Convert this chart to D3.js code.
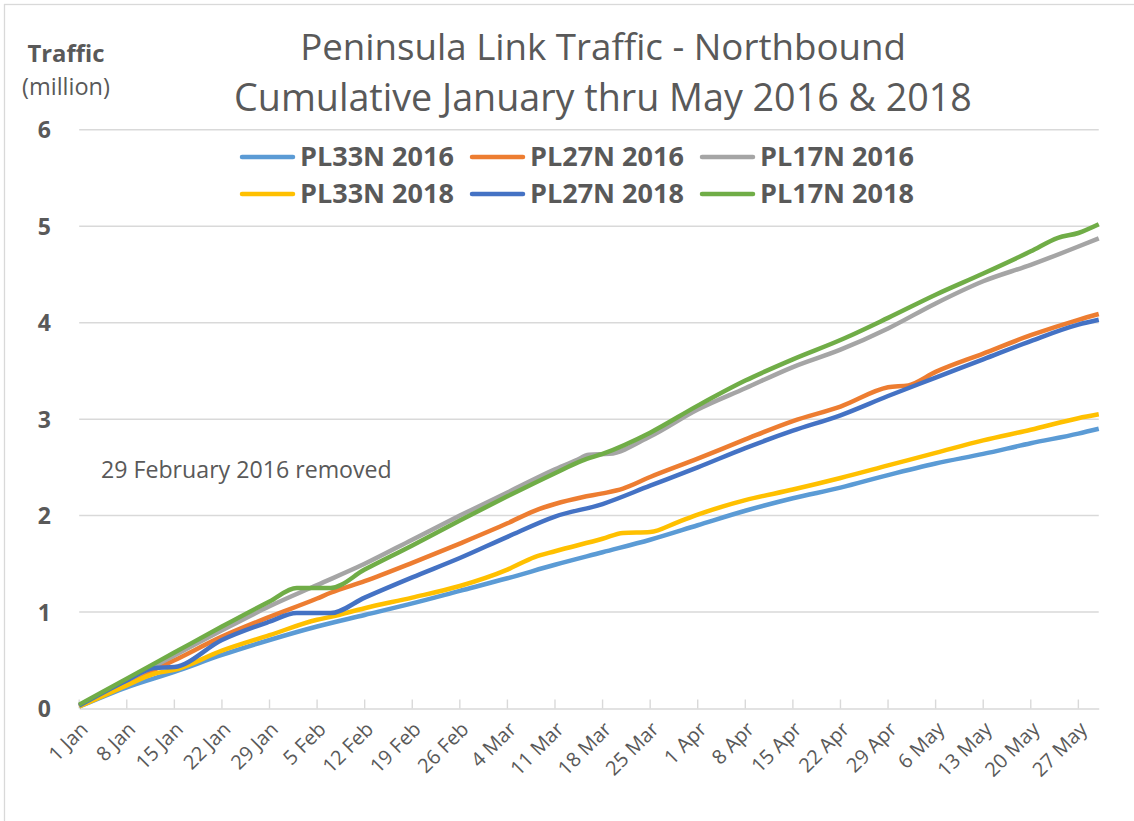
<!DOCTYPE html>
<html><head><meta charset="utf-8">
<script src="https://cdn.jsdelivr.net/npm/d3@7"></script>
<style>
body{margin:0;background:#fff}
svg{display:block}
text{font-family:"Open Sans","Noto Sans",sans-serif;fill:#595959}
</style>
</head><body>
<svg id="chart" width="1134" height="821"></svg>
<script>
// ---- data (day index from 1 Jan, cumulative traffic in millions) ----
const tickLabels = ["1 Jan","8 Jan","15 Jan","22 Jan","29 Jan","5 Feb","12 Feb","19 Feb","26 Feb",
  "4 Mar","11 Mar","18 Mar","25 Mar","1 Apr","8 Apr","15 Apr","22 Apr","29 Apr","6 May","13 May","20 May","27 May"];
const yTicks = [0,1,2,3,4,5,6];
const seriesNames = ["PL33N 2016","PL27N 2016","PL17N 2016","PL33N 2018","PL27N 2018","PL17N 2018"];

const pl33n2016 = [[0,0.02],[7,0.22],[14,0.38],[21,0.555],[28,0.71],[35,0.85],[42,0.97],[49,1.09],[56,1.22],
  [63,1.35],[70,1.49],[77,1.62],[84,1.75],[91,1.90],[98,2.05],[105,2.18],[112,2.29],[119,2.42],[126,2.54],
  [133,2.64],[140,2.75],[147,2.85],[150,2.90]];
const pl27n2016 = [[0,0.03],[7,0.27],[14,0.50],[21,0.745],[28,0.95],[35,1.14],[37,1.20],[42,1.32],[49,1.51],
  [56,1.71],[63,1.92],[67,2.05],[70,2.12],[74,2.19],[77,2.23],[80,2.28],[84,2.40],[91,2.59],[98,2.79],
  [105,2.98],[112,3.13],[119,3.33],[122,3.35],[126,3.49],[133,3.68],[140,3.87],[147,4.03],[150,4.09]];
const pl17n2016 = [[0,0.03],[7,0.29],[14,0.55],[21,0.81],[28,1.06],[35,1.28],[42,1.50],[49,1.75],[56,2.00],
  [63,2.24],[70,2.48],[73,2.57],[75,2.63],[78,2.64],[84,2.82],[91,3.10],[98,3.32],[105,3.54],[112,3.72],
  [119,3.94],[126,4.20],[133,4.43],[140,4.60],[147,4.79],[150,4.875]];
const pl33n2018 = [[0,0.02],[7,0.24],[11,0.36],[14,0.40],[21,0.60],[28,0.76],[35,0.92],[37,0.95],[42,1.04],
  [49,1.15],[56,1.27],[63,1.44],[67,1.57],[70,1.63],[77,1.76],[80,1.82],[84,1.83],[88,1.93],[91,2.01],
  [98,2.16],[105,2.27],[112,2.39],[119,2.52],[126,2.65],[133,2.78],[140,2.89],[147,3.01],[150,3.05]];
const pl27n2018 = [[0,0.03],[7,0.29],[11,0.42],[14,0.43],[21,0.71],[28,0.90],[32,0.99],[37,0.99],[42,1.15],
  [49,1.36],[56,1.56],[63,1.78],[70,1.99],[77,2.12],[84,2.31],[91,2.50],[98,2.70],[105,2.88],[112,3.04],
  [119,3.24],[126,3.43],[133,3.62],[140,3.81],[147,3.98],[150,4.03]];
const pl17n2018 = [[0,0.04],[7,0.31],[14,0.58],[21,0.85],[28,1.11],[32,1.25],[37,1.25],[42,1.44],[49,1.69],
  [56,1.95],[63,2.20],[70,2.44],[74,2.57],[77,2.64],[84,2.86],[91,3.14],[98,3.40],[105,3.62],[112,3.82],
  [119,4.05],[126,4.29],[133,4.51],[140,4.74],[144,4.88],[147,4.93],[150,5.02]];

const seriesData = [pl33n2016, pl27n2016, pl17n2016, pl33n2018, pl27n2018, pl17n2018];
const seriesColors = ["#5B9BD5","#ED7D31","#A5A5A5","#FFC000","#4472C4","#70AD47"];

// ---- layout ----
const svg = d3.select("#chart");
const x = d3.scaleLinear().domain([0,150]).range([79.2, 79.2 + 150*6.797]);
const y = d3.scaleLinear().domain([0,6]).range([708.5, 129.8]);
const grid = "#d9d9d9";

function fit(sel, w){
  const n = sel.node();
  const cur = parseFloat(sel.attr("font-size"));
  const len = n.getComputedTextLength();
  sel.attr("font-size", (cur*w/len).toFixed(2));
  return sel;
}

// chart border
svg.append("rect").attr("x",4.5).attr("y",4.5).attr("width",1140).attr("height",830)
  .attr("fill","none").attr("stroke",grid).attr("stroke-width",1.3);

// gridlines
svg.append("g").selectAll("line").data(yTicks.filter(d=>d>0)).join("line")
  .attr("x1", x(0)).attr("x2", x(150)).attr("y1", d=>y(d)).attr("y2", d=>y(d))
  .attr("stroke", grid).attr("stroke-width",1.5);

// y labels
svg.append("g").selectAll("text").data(yTicks).join("text")
  .attr("x", 51).attr("y", d=>y(d)+8.5).attr("text-anchor","end")
  .attr("font-size",23).attr("font-weight","bold").text(d=>d);

// x axis
const tickDays = tickLabels.map((_,i)=>i*7);
const xAxis = d3.axisBottom(x).tickValues(tickDays).tickSize(0).tickFormat("");
const gx = svg.append("g").attr("transform",`translate(0,${y(0)})`).call(xAxis);
gx.select(".domain").attr("stroke",grid).attr("stroke-width",1.6);
svg.append("g").selectAll("line").data(tickDays).join("line")
  .attr("x1",d=>x(d)).attr("x2",d=>x(d)).attr("y1",y(0)).attr("y2",y(0)-9)
  .attr("stroke",grid).attr("stroke-width",1.4);
svg.append("g").selectAll("text").data(tickLabels).join("text")
  .attr("transform",(d,i)=>`translate(${x(i*7)+10},${y(0)+22}) rotate(-45)`)
  .attr("text-anchor","end").attr("font-size",20).text(d=>d);

// lines
const line = d3.line().x(d=>x(d[0])).y(d=>y(d[1])).curve(d3.curveMonotoneX);
svg.append("g").selectAll("path").data(seriesData).join("path")
  .attr("d", line).attr("fill","none")
  .attr("stroke",(d,i)=>seriesColors[i]).attr("stroke-width",4.5)
  .attr("stroke-linejoin","round").attr("stroke-linecap","butt");

// titles
fit(svg.append("text").attr("x",603).attr("y",60).attr("text-anchor","middle")
  .attr("font-size",32).text("Peninsula Link Traffic - Northbound"), 606);
fit(svg.append("text").attr("x",603).attr("y",111).attr("text-anchor","middle")
  .attr("font-size",32).text("Cumulative January thru May 2016 & 2018"), 738);
fit(svg.append("text").attr("x",66).attr("y",62).attr("text-anchor","middle")
  .attr("font-size",20).attr("font-weight","bold").text("Traffic"), 77);
fit(svg.append("text").attr("x",66).attr("y",95).attr("text-anchor","middle")
  .attr("font-size",18).text("(million)"), 88);

// annotation
fit(svg.append("text").attr("x",101).attr("y",478).attr("font-size",19)
  .text("29 February 2016 removed"), 291);

// legend
const legX = [240, 470, 700];
const legY = [157, 194];
seriesNames.forEach((name,i)=>{
  const cx = legX[i%3], cy = legY[Math.floor(i/3)];
  svg.append("line").attr("x1",cx+2).attr("x2",cx+53).attr("y1",cy).attr("y2",cy)
    .attr("stroke",seriesColors[i]).attr("stroke-width",4.5).attr("stroke-linecap","round");
  fit(svg.append("text").attr("x",cx+60).attr("y",cy+9).attr("font-size",22)
    .attr("font-weight","bold").text(name), 154);
});
</script>
</body></html>
